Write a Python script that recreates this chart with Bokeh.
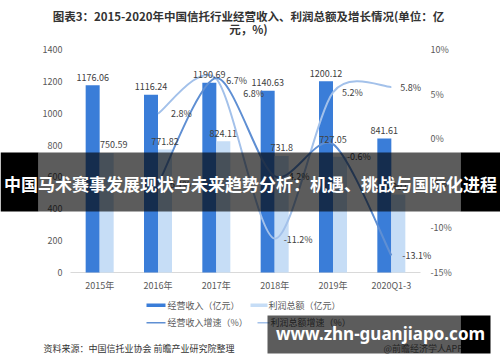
from bokeh.plotting import figure
from bokeh.models import Range1d, Label, BoxAnnotation, ColumnDataSource
from bokeh.core.properties import value
from bokeh.embed import file_html
from bokeh.resources import INLINE

# ---------------- data ----------------
categories = ["2015年", "2016年", "2017年", "2018年", "2019年", "2020Q1-3"]
revenue = [1176.06, 1116.24, 1190.69, 1140.63, 1200.12, 841.61]      # 经营收入（亿元）
profit = [750.59, 771.82, 824.11, 731.8, 727.05, 490.0]              # 利润总额（亿元）
growth_a = [2.8, 6.7, -11.2, 5.2, 5.8]      # lighter curve, 2016..2020Q1-3
growth_b = [-5.1, 6.8, -4.2, -0.6, -13.1]   # darker curve, 2016..2020Q1-3
left_ticks = [0, 200, 400, 600, 800, 1000, 1200, 1400]
right_ticks = [-15, -10, -5, 0, 5, 10]
right_tick_labels = ["-15%", "-10%", "-5%", "0%", "5%", "10%"]

title_lines = ["图表3：2015-2020年中国信托行业经营收入、利润总额及增长情况(单位：亿", "元，%)"]
legend_labels = ["经营收入（亿元）", "利润总额（亿元）", "经营收入增速（%）", "利润总额增速（%）"]
source_text = "资料来源：中国信托业协会 前瞻产业研究院整理"
brand_text = "@前瞻经济学人APP"
banner_text = "中国马术赛事发展现状与未来趋势分析：机遇、挑战与国际化进程"
url_text = "www.zhn-guanjiapo.com"

# ---------------- styles / layout ----------------
FONT = "Noto Sans CJK SC"
DARK = "#3a7dd8"
LIGHT = "#c6ddf6"
LINE_A = "#a3c1ea"
LINE_B = "#5f8fd3"
TXT = "#404040"
AX = "#595959"

W, H = 500, 362
PL, PR, PT, PB = 70, 420, 49, 272      # plot area in pixels (category band, 0..1400)

# label offsets (pixels), kept separate from values
profit_dx = [7, 0, 0, 0, -7, 0]
profit_dy = [-8, -8, -8, -8, -17, -8]
a_dx = [13, 10, 9, 9, 9]
a_dy = [0, 2, 1, 0, 1]
b_dx = [9, 27, 11, 14, 11]
b_dy = [0, 15, 0, 12, 0]

n = len(categories)
idx = list(range(n))

# ranges chosen so that the category band / value axis fall on the plot area
ux = (PR - PL) / n
x0, x1 = -0.5 - PL / ux, n - 0.5 + (W - PR) / ux
uy = (PB - PT) / (left_ticks[-1] - left_ticks[0])
y0, y1 = left_ticks[0] - (H - PB) / uy, left_ticks[-1] + PT / uy
up = (PB - PT) / (right_ticks[-1] - right_ticks[0])
p0, p1 = right_ticks[0] - (H - PB) / up, right_ticks[-1] + PT / up

p = figure(width=W, height=H, output_backend="svg", toolbar_location=None,
           x_range=Range1d(x0, x1), y_range=Range1d(y0, y1),
           x_axis_location=None, y_axis_location=None, min_border=0)
p.outline_line_color = None
p.grid.visible = False
p.background_fill_color = "white"
p.border_fill_color = "white"
p.extra_y_ranges = {"pct": Range1d(p0, p1)}

# axis texts and baseline
p.segment(x0=[-0.5], y0=[0], x1=[n - 0.5], y1=[0], line_color="#d9d9d9", line_width=1)
p.text(x=idx, y=[0] * n, text=categories, y_offset=13, text_align="center",
       text_baseline="middle", text_font=value(FONT), text_font_size="9px", text_color=AX)
p.text(x=[-0.5] * len(left_ticks), y=left_ticks, text=[str(t) for t in left_ticks],
       x_offset=-8, text_align="right", text_baseline="middle", text_font=value(FONT),
       text_font_size="9px", text_color=AX)
p.text(x=[n - 0.5] * len(right_ticks), y=right_ticks, text=right_tick_labels,
       x_offset=10, y_range_name="pct", text_align="left", text_baseline="middle",
       text_font=value(FONT), text_font_size="9px", text_color=AX)

# bars
bw = 0.24
xr = [i - bw / 2 for i in idx]
xp = [i + bw / 2 for i in idx]
p.vbar(x=xr, top=revenue, width=bw, bottom=0, fill_color=DARK, line_color=None)
p.vbar(x=xp, top=profit, width=bw, bottom=0, fill_color=LIGHT, line_color=None)

# smoothed growth curves (bezier through the values)
def bezier_segments(xs, ys, k=6.0):
    segs = dict(x0=[], y0=[], x1=[], y1=[], cx0=[], cy0=[], cx1=[], cy1=[])
    m = len(xs)
    for i in range(m - 1):
        i0 = max(i - 1, 0)
        i3 = min(i + 2, m - 1)
        segs["x0"].append(xs[i]); segs["y0"].append(ys[i])
        segs["x1"].append(xs[i + 1]); segs["y1"].append(ys[i + 1])
        segs["cx0"].append(xs[i] + (xs[i + 1] - xs[i0]) / k)
        segs["cy0"].append(ys[i] + (ys[i + 1] - ys[i0]) / k)
        segs["cx1"].append(xs[i + 1] - (xs[i3] - xs[i]) / k)
        segs["cy1"].append(ys[i + 1] - (ys[i3] - ys[i]) / k)
    return segs

gx = idx[1:]
for vals, col in ((growth_a, LINE_A), (growth_b, LINE_B)):
    p.bezier(source=ColumnDataSource(bezier_segments(gx, vals, 7.0)),
             x0="x0", y0="y0", x1="x1", y1="y1", cx0="cx0", cy0="cy0", cx1="cx1", cy1="cy1",
             y_range_name="pct", line_color=col, line_width=2)

# bar labels
p.text(x=xr, y=revenue, text=[str(v) for v in revenue], y_offset=-8,
       text_align="center", text_baseline="middle", text_font=value(FONT),
       text_font_size="9px", text_color=TXT)
p.text(source=ColumnDataSource(dict(x=xp, y=profit, t=[str(v) for v in profit],
                                    dx=profit_dx, dy=profit_dy)),
       x="x", y="y", text="t", x_offset="dx", y_offset="dy",
       text_align="center", text_baseline="middle", text_font=value(FONT),
       text_font_size="9px", text_color=TXT)

for vals, dx, dy in ((growth_a, a_dx, a_dy), (growth_b, b_dx, b_dy)):
    p.text(source=ColumnDataSource(dict(x=gx, y=vals, t=[f"{v}%" for v in vals], dx=dx, dy=dy)),
           x="x", y="y", text="t", x_offset="dx", y_offset="dy", y_range_name="pct",
           text_align="left", text_baseline="middle", text_font=value(FONT),
           text_font_size="9px", text_color=TXT)

# ---------------- page texts (screen units: x from left, y from bottom) ----------------
def lab(text, X, Y, size="9px", color=TXT, align="left", style="normal", font=FONT, level="annotation"):
    p.add_layout(Label(x=X, y=H - Y, x_units="screen", y_units="screen", text=text,
                       text_font=font, text_font_size=size, text_color=color,
                       text_align=align, text_baseline="middle", text_font_style=style,
                       level=level))

def box(l, r, t, b, color, alpha=1.0, level="annotation"):
    p.add_layout(BoxAnnotation(left=l, right=r, top=H - t, bottom=H - b,
                               left_units="screen", right_units="screen",
                               top_units="screen", bottom_units="screen",
                               fill_color=color, fill_alpha=alpha, line_color=None,
                               level=level))

lab(title_lines[0], 248, 15, size="11.5px", color="#333333", align="center", style="bold")
lab(title_lines[1], 248, 28, size="11.5px", color="#333333", align="center", style="bold")

# legend
box(146, 165, 303, 306.5, DARK)
lab(legend_labels[0], 167, 305, color=AX)
box(250, 267, 303, 306.5, LIGHT)
lab(legend_labels[1], 268, 305, color=AX)
box(146, 165, 321.5, 323, LINE_B)
lab(legend_labels[2], 167, 322, color=AX)
box(257, 269, 321.5, 323, LINE_A)
lab(legend_labels[3], 270, 322, color=AX)

lab(source_text, 43, 348, color="#333333")
lab(brand_text, 383, 348, color="#666666")

# overlays
box(0, 38, 152, 211, "#000000", level="overlay")
box(38, 460, 152, 211, "#000000", 0.64, level="overlay")
box(460, 500, 152, 211, "#000000", level="overlay")
lab(banner_text, 250, 183, size="17px", color="white", align="center", style="bold", level="overlay")

box(267, 460, 315, 353, "#000000", 0.64, level="overlay")
box(460, 490, 315, 353, "#000000", level="overlay")
lab(url_text, 380, 333, size="17px", color="white", align="center", style="bold",
    font="Noto Sans", level="overlay")

open("out.html", "w").write(file_html(p, INLINE))
